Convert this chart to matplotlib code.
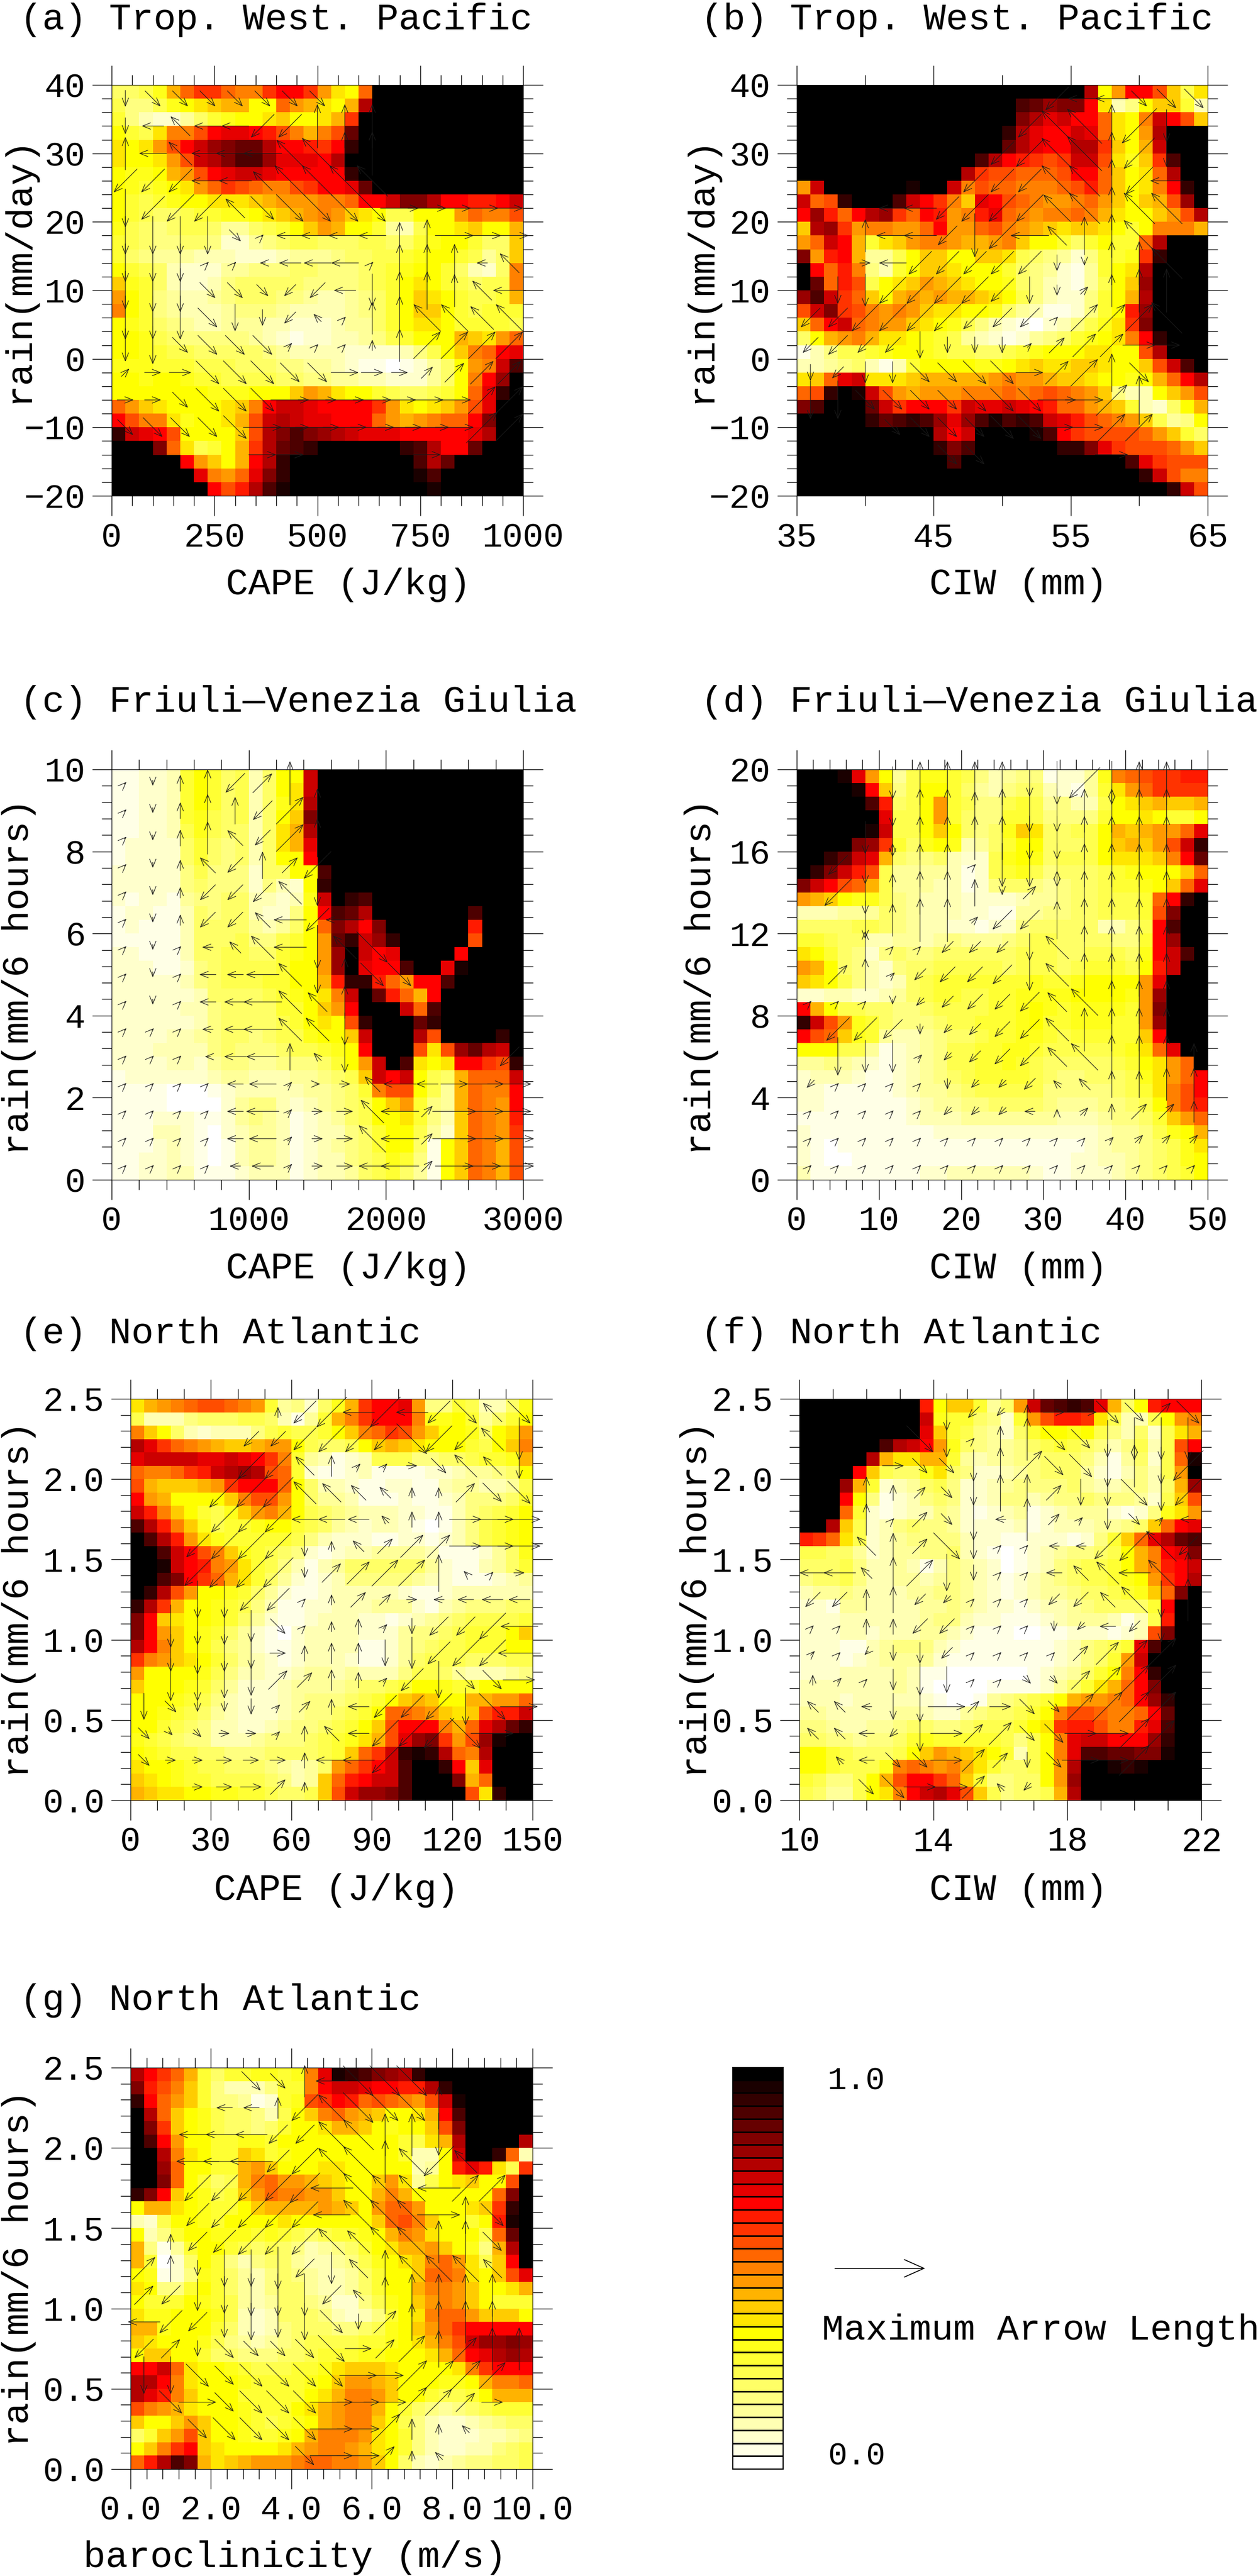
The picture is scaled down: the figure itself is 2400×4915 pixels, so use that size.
import numpy as np
import matplotlib
matplotlib.use('Agg')
import matplotlib.pyplot as plt
from matplotlib.colors import ListedColormap
from matplotlib.patches import FancyArrowPatch
from matplotlib.ticker import MultipleLocator

# colour levels of the shared bar, white to black
LEVELS = '0123456789abcdefghijklmnopqrstu'
bar_colors = ['#ffffff', '#ffffe6', '#ffffcc', '#ffffb3', '#ffff99', '#ffff80', '#ffff66', '#ffff4d',
              '#ffff33', '#ffff1a', '#ffff00', '#ffe600', '#ffcc00', '#ffb300', '#ff9900', '#ff8000',
              '#ff6600', '#ff4d00', '#ff3300', '#ff1a00', '#ff0000', '#e60000', '#cc0000', '#b30000',
              '#990000', '#800000', '#660000', '#4d0000', '#330000', '#1a0000', '#000000']

# heat cells, top row first, one level character per cell
heat_a = ['6679dgiigffikkiebaguuuuuuuuuuu', '75579abcddaagedbadnuuuuuuuuuuu', '853224689aabcaabdiuuuuuuuuuuuu',
          'a87bffhkllkjhfdfhquuuuuuuuuuuu', 'babehkmopqqnkkjiksuuuuuuuuuuuu', 'baabehmnprrolllknuuuuuuuuuuuuu',
          'a99adehklmmlkkkkksuuuuuuuuuuuu', 'a989abegihgffhikklquuuuuuuuuuu', 'a8789aabbbcdeeeffgkkmppnkkjjkm',
          'a876678899abcdefecba77aaaegffh', '9765677644678acedaa8437aabcaad', '876556652245677666776689aa866c',
          '86544433322234445667789aa8746c', 'a876322244555665556789aa86326f', 'c986322356666655556 78aba87677f'.replace(' ', ''),
          'ea854334566655433456' + '8acba8778d', 'fa854333455543333456' + '8acca87888', 'a9865433444332223446' + '8abba88887',
          'aa976555554321223345' + '78aaadcbeg', 'aa987766666543333222' + '2357acfgkl', '99988877766655443211' + '01246aefmr',
          'aa9aa988777766554433' + '22246afkou', 'aaaaaaa999aaacedbaa8' + '76678aglsu', 'gecbaaaabcfkmmlkkkki' + 'ebabcehluu',
          'khffb9aabdhmnmllkkkg' + 'edefggkpuu', 'smlkhaaaachnprponmll' + 'lkkkkklnuu', 'uuupgb78adinqrsuuuuu' + 'usrnkkquuu',
          'uuuuukecadknsuuuuuuu' + 'uurnquuuuu', 'uuuuuulfeglpsuuuuuuu' + 'uutruuuuuu', 'uuuuuuukhjnrtuuuuuuu' + 'uuutuuuuuu']

heat_b = ['uuuuuuuuuuuuuuuuuuuuunaekkhc7b', 'uuuuuuuuuuuuuuuurqoppkb35acc83', 'uuuuuuuuuuuuuuuupnlmkkgbafmkhc',
          'uuuuuuuuuuuuuuusnlkkmlgbaenuuu', 'uuuuuuuuuuuuuuuqnlkknnicadmuuu', 'uuuuuuuuuuuuurnkjihimmhb9ciruu',
          'uuuuuuuuuuuunihhggghkkgcabgnuu', 'emuuuuuutuumfhggfffghjgcabfksu', 'mghsuuurmkifclkhgfeefgecacdhou',
          'kojgknoigkjefjlgfeffgfdbaacehn', 'cnoieffeegkeeghfedcbccba8afffd', 'egmkd8bceffeddefcaa868a88gnuuu',
          'pejkd447accaaccb765425889isuuu', 'ukgjf538accbaaa86542148abnuuuu', 'uqgjh7abcedcbaa96532147acouuuu',
          'ormigcadededdcba7532258adnuuuu'[:10] + 'eddcba7532258adnuuuu', 'hmpihfefecbbaa964311258ajouuuu', 'cgkmgfeecba975321023579bipuuuu',
          '6adefdbba9874321245689abfksuuu', '1357789aa987766789aaabbaahnuuu', '334563138aaaa99abcbbccbaachmru',
          'bcglmbbbcdddddefeedccbaa9adgkn', 'ghsutmhedeeefffgfghgfec533aceh', 'pruuuqmikkkimllmlkjggedc8326ad',
          'uuuuusqrsrolortrsrmljhgfec745a', 'uuuuuuuuuunkmuuuutrkihhhhgec86', 'uuuuuuuuuuspruuuuuussplihhhgec',
          'uuuuuuuuuuuruuuuuuuuuuuurlihhhg'[:30], 'uuuuuuuuuuuuuuuuuuuuuuuuusmhff', 'uuuuuuuuuuuuuuuuuuuuuuuuuuusmh']

heat_c = ['112238a86736aamuuuuuuuuuuuuuuu', '112238a86736abmuuuuuuuuuuuuuuu', '112238a867369bnuuuuuuuuuuuuuuu',
          '112238976736acpuuuuuuuuuuuuuuu', '112237976636bdnuuuuuuuuuuuuuuu', '122226865636bdluuuuuuuuuuuuuuu',
          '122226865636aakuuuuuuuuuuuuuuu', '2222257555266aaruuuuuuuuuuuuuu', '22222565552532asuuuuuuuuuuuuuu',
          '212214556633239musruuuuuuuuuuu', '12211365663225akrqnuuuuuuuruuu', '12111366664346agpnkpuuuuuujuuu',
          '11111366675578aeqsmosuuuuuhuuu', '22111366776689aeoumkluuuukuuuu', '2221125677778aaeoulkkruultuuuu',
          '2222235677788aadjssjgekkruuuuu', '22222236666789abfmuqjgdkuuuuuu', '22222335666688acekuuumgruuuuuu',
          '22222235666678abahsuuuqsuuuuuu', '222233456656779aacmuuunhuuuusu', '2223333565' + '5567789aku' + 'uuhbhoqnmu',
          '2222332455' + '4455568aem' + 'urbabkkihs', '1222222344' + '33344567cm' + 'kma76dgggm', '1111000123' + '333344568f' + 'hha74dgffk',
          '1111000024' + '553234567a' + 'ce854dgfek', '1112221124' + '543123467a' + 'ab853cgfej', '1113321023' + '4431233568' + 'aa742cgfei',
          '1112321013' + '4431234568' + 'aa61acgfdh', '1122321013' + '4431233567' + '9851acgfdh', '1122331112' + '3331233467' + '8641acgfdh']

heat_d = ['uuutlea479' + '9875345512' + '249fghiijj', 'uuuutkc57a' + 'a864356632' + '148begiiii', 'uuuuurj67a' + 'e875578745' + '337abcdccd',
          'uuuuuul77a' + 'e865588755' + '558aaba88a', 'uuuuutm77a' + 'ca6569cb66' + '77adcdeegl', 'uuuupoi869' + 'a93468aa66' + '67acdcehms',
          'uusqmld655' + '632279a967' + '77abbbcfkq', 'uspmjh7444' + '4312789756' + '66789aaacg', 'pmkhgd7444' + '3312566545' + '667889acgl',
          'edca997543' + '3322223445' + '667778gksu', '3334446543' + '3322114455' + '667778hpuu', '6666776543' + '3221225666' + '663357kruu',
          '8876633443' + '4544456776' + '666558kouu', 'ba86525655' + '6666667776' + '677769kmru', 'eda6532566' + '7777767776' + '78887ajmuu',
          'cba7532367' + '8888888988' + '9aaaaeluuu', '2233223467' + '8877889999' + 'aaaa9eouuu', 'kda7766556' + '7777889a98' + '99998epuuu',
          'smhe986555' + '6778889a88' + '99988eouuu', 'khgc984334' + '5667889987' + '88888ckuuu', 'aaa7741234' + '5778899877' + '77789bgluu',
          '4454321234' + '5778898766' + '66678abegu', '2333211234' + '5678888765' + '566679begk', '2211111234' + '4567777755' + '555678bfhk',
          '2211111123' + '4455666654' + '445567afhj', '1111111123' + '3344444443' + '3345568ceg', '2111111111' + '2222222222' + '22344579ad',
          '2101111111' + '1111111111' + '123445679b', '2100111111' + '1111111111' + '223345679a', '3111111112' + '2333333211' + '222345678a']

heat_e = ['bdefghhgfe' + '845269dikk' + 'le55873369', '7333566677' + '63148dfikk' + 'kf99a8468a', 'fca6323335' + '78778acfgi' + 'hecaa96abe',
          'nligfedccd' + 'eea7667acd' + 'cbaaa87acf', 'lmmmmllmlk' + 'if84312377' + '755667889d', 'gffgijmnon' + 'hg82112311' + '112234456a',
          'hdcccdeikk' + 'kga6332112' + '2113443347', 'kedaaaacfh' + 'hea6443111' + '2112355568', 'mjfca879ce' + 'fda7654333' + '221135678a',
          'rnjfc97889' + 'aa87643233' + '210135789a', 'urnjeb9888' + '8875322211' + '221235789a', 'uurmkhfc98' + '7652123344' + '4431112469',
          'uutmkjfeb8' + '7531346666' + '6642113468', 'uurpkigdb8' + '6421235555' + '5432111234', 'usnheaa986' + '4211233333' + '2112333333',
          'snidaa9875' + '3112233344' + '4213455566', 'pkcbaa9864' + '2112333221' + '2345677778', 'pkeca98642' + '1023333222' + '45567888ac',
          'nkfca97542' + '1123333112' + '45677888aa', 'ifecba8643' + '2123332112' + '4677766677', 'eaaaa97533' + '2234434333' + '5776433345',
          'caaa986422' + '2344445667' + '8aa988aaaa', 'aaa9875322' + '234555678a' + 'cdcaaddeeg', 'aa98764322' + '23455678ag' + 'gfecbchjjm',
          'aa87653322' + '3455678ach' + 'kkkfdglnqs', '9876553334' + '5556789bdh' + 'lopiehotuu', 'a987766555' + '666678cgim' + 'stsngfnuuu',
          'baa9877666' + '54346egikm' + 'ruuskcluuu', 'cba9887777' + '6534cgjkmm' + 'ruuupdguuu', 'dcbbaa9988' + '7667chmoop' + 'ruuuuhbsuu']

heat_f = ['uuuuuuuuuj' + 'acc846emqr' + 'srld6ajkkk', 'uuuuuuuuum' + '9886528ehj' + 'jib7337aef', 'uuuuuuuuul' + 'c8754268aa' + '9a753627bd',
          'uuuuuurnmk' + 'e965445678' + '76535737hk', 'uuuuundbbd' + 'd843445566' + '65314627gt', 'uuuukc7669' + 'b652234566' + '64213537eu',
          'uuuod82346' + '7522345555' + '64334536do', 'uuuka51235' + '6522355345' + '56555427ch', 'uuug821233' + '5421234123' + '44421259be',
          'uunc723565' + '5422223123' + '334456cgkl', 'jigb723455' + '5532211222' + '1258cglnqr', '7766423445' + '5632101234' + '5567adfklp',
          '6667533431' + '3543201235' + '6778adfjkm', '5667533443' + '4543212345' + '67789aeikn', '3445433344' + '5543212344' + '566789cgpu',
          '2214433334' + '4543221233' + '4566668kuu', '2223333334' + '5532211123' + '4443137juu', '2223323334' + '4321110011' + '222123hpuu',
          '2221134555' + '3211111112' + '35678lruuu', '2221234444' + '2111111112' + '3568emuuuu', '2223333431' + '1000000123' + '468afksuuu',
          '3333333431' + '0000111124' + '68bdgkpuuu', '3332333332' + '100145678a' + 'deefgkosuu', '4433333443' + '22456678af' + 'hhgffgkquu',
          '5543344566' + '5567778abi' + 'jjhffjlruu', '6655455689' + '88888757af' + 'lmmkkkosuu', 'aa876667ac' + 'edcba837af' + 'lrrqqpptuu',
          'aa87779fgf' + 'efdb8667ae' + 'nuutstuuuu', '87557adhkk' + 'igc85566ae' + 'ouuuuuuuuu', '76447abfkm' + 'nlhc75667d' + 'nuuuuuuuuu']

heat_g = ['nkigd86889' + '989fltsrpo' + 'nsuuuuuuuu', 'pjhfc85333' + '588fkmmlkk' + 'jjnsuuuuuu', 'skgec85541' + '289hikjghg' + 'fehmtuuuuu',
          'ungca97665' + '37acfgedca' + 'abdkruuuuu', 'upica97665' + '68aabddca9' + 'aachpuuuuu', 'urkeaa8899' + '8aaaaaaaaa' + '87bdnuuuun',
          'uunfba88cb' + '89aaaaaaaa' + '833amuusg3', 'uuogaa88de' + 'caaabbaaaa' + 'a34ajljb7i', 'uupga867df' + 'geedcbaace' + 'b47abcaahu',
          'spkca978ce' + 'gffeecaadf' + 'daaaaaagpu', 'addba988ac' + 'ddddedcaeg' + 'geaaabcisu', '327aa98aaa' + 'abaaaaaacg' + 'hfcaa8ajtu',
          'a358aa9998' + '98767889ad' + 'febaaa7gqu', 'd5148aa876' + '76534568ab' + 'ddeca95dnu', 'd8026a8535' + '664334579a' + 'bcfgeb7cku',
          'a912598643' + '565433468a' + 'acggfbachl', 'ba558a8643' + '566433468a' + 'adffecaabd', 'a888a98743' + '4665422579' + 'acefeca888',
          'b99aaa9732' + '3666532358' + 'abfggeccca', 'dd9aaa8632' + '3566655679' + 'acegikkkkk', 'cbaaa97543' + '4567777889' + 'abdfhmoopo',
          'accaa86655' + '566788899a' + 'aabdgklnon', 'kkmgbaa987' + '77889bcccb' + 'aaaabfikkk', 'nnkfbaaa98' + '8889aceedc' + 'aaa99adffg',
          'nljfcaaa88' + '888abdffec' + 'aa8778addd', 'hfedbaaa98' + '88abdeffda' + '8654567888', 'caacecaa98' + '789adeffca' + '7532234566',
          '68cehcaa98' + '89adfffeba' + '8532223345', 'acfikcbaaa' + 'abdeffedba' + '8532233567', 'gjnrpdbcde' + 'eefggffeca' + '6323455667']

# arrows on a coarse 15x15 grid, top row first: numpad direction (8 up, 6 right, 5 dot, 0 none)
# and length digit
dir_a = ['233333330000000', '247441188800000', '847444778800000', '111447777700000', '211173333366666',
         '222235444488666', '222554444588847', '222333114288874', '222322175887777', '223333555889999',
         '966333336669999', '663333666666699', '333336666666699', '000006600006000', '000000000000000']
len_a = ['344444440000000', '345556688800000', '656677788800000', '666665888800000', '767756777777665',
         '777731566556777', '777111455177725', '788443344677656', '888553321687767', '674555211267777',
         '234666555433566', '334666777766677', '455567788888787', '000005500005000', '000000000000000']
dir_b = ['000000000144333', '000000001778120', '000000011778120', '000000111778140', '000441111778770',
         '008441214788700', '006411111228870', '022111112298880', '111111111599970', '111122225999660',
         '212233336998300', '223333333669800', '000333333669900', '000003300006000', '000000000000000']
len_b = ['000000000666455', '000000006898960', '000000067898850', '000000666888760', '000566777788880',
         '006665877578800', '002566666318880', '056777765226880', '557777655177780', '454453332466650',
         '334455665677500', '775555666778900', '000455566677700', '000005500006000', '000000000000000']
dir_c = ['528819800000000', '528881980000000', '528871980000000', '528718910000000', '528111720000000',
         '528117414000000', '525477427300000', '525444728330000', '525444778000000', '555444772000000',
         '555444872000001', '555544566744666', '555544566745666', '555544566745666', '555544566445666']
len_c = ['113555800000000', '113655780000000', '113644770000000', '112445470000000', '112445650000000',
         '112444667000000', '111236686800000', '111336676660000', '111347656000000', '111247666000000',
         '111146526000005', '111135212464588', '111136223675888', '111135223775889', '111124223575779']
dir_d = ['000288882212880', '000288882288880', '002288882288880', '012888522288880', '012888825888880',
         '002888511888880', '008551112788880', '098511112788880', '555211111778880', '011121111788880',
         '022251111778888', '155552111778888', '555551114898998', '555555555559999', '555555555555555']
len_d = ['000688885888880', '000688788888880', '006788888888880', '057888188888880', '078788516888880',
         '007688355788880', '006113335688880', '056234456688880', '111123445578880', '066522345688880',
         '076622345578885', '211112223235566', '111112222123444', '111111111111222', '111111111111111']
dir_e = ['000008114141373', '000011111131172', '000011785563772', '000111777788933', '000111444788666',
         '001111287999666', '001111299998756', '002211589964444', '022223588521114', '022226888221114',
         '022229988512336', '232225984111236', '333665874111360', '366666844110000', '006669800000000']
len_e = ['000002686866656', '000044677687668', '000077542224655', '000888654322556', '000777554233688',
         '006777423466688', '007888256777112', '007766124322344', '087764123235577', '078763344566778',
         '088765443267556', '532232334667777', '312222344778880', '322333366700000', '002344200000000']
dir_f = ['000002118663393', '000032588332222', '000633289332821', '008893288922321', '008593248952354',
         '007893255441171', '447892255477478', '118811555117728', '558811555214120', '551221555599990',
         '855222553399990', '774226963399990', '774126993366990', '074336992366900', '003366971000000']
len_f = ['000007323466556', '000077158657888', '000444678568878', '006333577455777', '006143828324323',
         '005547511227885', '563677311346678', '444532111344778', '113344111223360', '211343111146780',
         '221465112257880', '332567344378880', '333276564568870', '023446643478800', '004668622000000']
dir_g = ['000033843330000', '000448173338000', '004441177882000', '014441177871700', '011111147774990',
         '011111147776830', '081111177778830', '982222127877770', '912222217888880', '411222232988880',
         '192333336998988', '223333336699990', '036333366699960', '003333366988700', '000000366987000']
len_g = ['000054668880000', '000334778778000', '007765578888500', '008886778878600', '007777888778770',
         '006777778888760', '035677776888850', '653778565777750', '556788853788880', '665676763678880',
         '553544575577688', '776566667788870', '067566688887540', '005666688842200', '000000588522000']

# x tick labels / y tick labels
xt_a = ['0', '250', '500', '750', '1000']
xt_b = ['35', '45', '55', '65']
xt_c = ['0', '1000', '2000', '3000']
xt_d = ['0', '10', '20', '30', '40', '50']
xt_e = ['0', '30', '60', '90', '120', '150']
xt_f = ['10', '14', '18', '22']
xt_g = ['0.0', '2.0', '4.0', '6.0', '8.0', '10.0']
yt_ab = ['\u221220', '\u221210', '0', '10', '20', '30', '40']
yt_c = ['0', '2', '4', '6', '8', '10']
yt_d = ['0', '4', '8', '12', '16', '20']
yt_efg = ['0.0', '0.5', '1.0', '1.5', '2.0', '2.5']

W, H = 2400, 4915
FONT = 'Liberation Mono'
VEC = {'8': (0, 1), '2': (0, -1), '4': (-1, 0), '6': (1, 0), '7': (-.707, .707), '9': (.707, .707),
       '1': (-.707, -.707), '3': (.707, -.707), '5': (.4, .4)}

fig = plt.figure(figsize=(W / 100, H / 100), dpi=100)
cmap = ListedColormap(bar_colors)


def rect(x0, x1, y0, y1):
    return [x0 / W, 1 - y1 / H, (x1 - x0) / W, (y1 - y0) / H]


def put(x, y, s, size=51, **kw):
    fig.text(x / W, 1 - y / H, s, fontsize=size, family=FONT, **kw)


def panel(box, rows, adir, alen, xlim, ylim, xticks, yticks, xmajor, xminor, ymajor, yminor):
    ax = fig.add_axes(rect(*box))
    # short or long rows get cut to the grid, a missing cell repeats the last one
    grid = np.array([[LEVELS.index(c) for c in r.ljust(30, r[-1])[:30]] for r in rows])[::-1]
    xe = np.linspace(xlim[0], xlim[1], 31)
    ye = np.linspace(ylim[0], ylim[1], 31)
    ax.pcolormesh(xe, ye, grid, cmap=cmap, vmin=-0.5, vmax=30.5)
    ax.set_xlim(xlim)
    ax.set_ylim(ylim)
    ax.set_xticks(np.arange(len(xticks)) * xmajor + xlim[0], xticks, family=FONT, fontsize=47)
    ax.set_yticks(np.arange(len(yticks)) * ymajor + ylim[0], yticks, family=FONT, fontsize=47)
    ax.xaxis.set_minor_locator(MultipleLocator(xminor))
    ax.yaxis.set_minor_locator(MultipleLocator(yminor))
    ax.tick_params(which='major', direction='out', length=27, width=1, top=True, right=True, pad=9)
    ax.tick_params(which='minor', direction='out', length=14, width=1, top=True, right=True)
    for s in ax.spines.values():
        s.set_linewidth(0.8)

    # quiver-like field, open heads like the original
    dx = (xlim[1] - xlim[0]) / 30
    dy = (ylim[1] - ylim[0]) / 30
    for i in range(15):
        for j in range(15):
            d, n = adir[i][j], int(alen[i][j])
            if d == '0' or n == 0:
                continue
            cx = xlim[0] + (2 * j + 1) * dx
            cy = ylim[1] - (2 * i + 1) * dy
            ux, uy = VEC[d]
            hx, hy = ux * n * 0.2 * dx, uy * n * 0.2 * dy
            ax.annotate('', xy=(cx + hx, cy + hy), xytext=(cx - hx, cy - hy), annotation_clip=False,
                        arrowprops=dict(arrowstyle='->,head_length=0.55,head_width=0.22', color='#1a1a1a',
                                        lw=0.8, shrinkA=0, shrinkB=0, mutation_scale=20))
    return ax


panel((213, 998, 162, 946), heat_a, dir_a, len_a, (0, 1000), (-20, 40), xt_a, yt_ab, 250, 50, 10, 2)
panel((1520, 2304, 162, 946), heat_b, dir_b, len_b, (35, 65), (-20, 40), xt_b, yt_ab, 10, 5, 10, 2)
panel((213, 998, 1468, 2251), heat_c, dir_c, len_c, (0, 3000), (0, 10), xt_c, yt_c, 1000, 200, 2, 0.4)
panel((1520, 2304, 1468, 2251), heat_d, dir_d, len_d, (0, 50), (0, 20), xt_d, yt_d, 10, 2, 4, 0.8)
panel((249, 1016, 2669, 3435), heat_e, dir_e, len_e, (0, 150), (0, 2.5), xt_e, yt_efg, 30, 10, 0.5, 0.1)
panel((1525, 2292, 2669, 3435), heat_f, dir_f, len_f, (10, 22), (0, 2.5), xt_f, yt_efg, 4, 1, 0.5, 0.1)
panel((249, 1016, 3945, 4711), heat_g, dir_g, len_g, (0, 10), (0, 2.5), xt_g, yt_efg, 2, 0.4, 0.5, 0.1)

# panel titles
for x, y, t in [(38, 38, '(a) Trop. West. Pacific'), (1337, 38, '(b) Trop. West. Pacific'),
                (38, 1340, '(c) Friuli\u2014Venezia Giulia'), (1337, 1340, '(d) Friuli\u2014Venezia Giulia'),
                (38, 2545, '(e) North Atlantic'), (1337, 2545, '(f) North Atlantic'),
                (38, 3817, '(g) North Atlantic')]:
    put(x, y, t, ha='left', va='center')

# axis labels
for x, y, t in [(665, 1116, 'CAPE (J/kg)'), (1943, 1116, 'CIW (mm)'), (665, 2421, 'CAPE (J/kg)'),
                (1943, 2421, 'CIW (mm)'), (642, 3607, 'CAPE (J/kg)'), (1943, 3607, 'CIW (mm)'),
                (563, 4880, 'baroclinicity (m/s)')]:
    put(x, y, t, ha='center', va='center')
for x, y, t in [(36, 514, 'rain(mm/day)'), (1338, 514, 'rain(mm/day)'), (36, 1864, 'rain(mm/6 hours)'),
                (1338, 1864, 'rain(mm/6 hours)'), (36, 3052, 'rain(mm/6 hours)'), (1330, 3052, 'rain(mm/6 hours)'),
                (36, 4328, 'rain(mm/6 hours)')]:
    put(x, y, t, ha='center', va='center', rotation=90)

# colour bar
cax = fig.add_axes(rect(1397, 1494, 3944, 4711))
levels = np.arange(len(bar_colors))
cax.pcolormesh([0, 1], np.arange(len(bar_colors) + 1), levels[:, None], cmap=cmap, vmin=-0.5, vmax=30.5,
               edgecolors='black', linewidth=1.0)
cax.set_xticks([])
cax.set_yticks([])
put(1634, 3971, '1.0', size=44, ha='center', va='center')
put(1634, 4687, '0.0', size=44, ha='center', va='center')
put(1568, 4446, 'Maximum Arrow Length', size=50, ha='left', va='center')

# reference arrow
fig.add_artist(FancyArrowPatch((1593 / W, 1 - 4328 / H), (1765 / W, 1 - 4328 / H),
                               transform=fig.transFigure, arrowstyle='->,head_length=0.9,head_width=0.4',
                               mutation_scale=30, lw=1.3, color='black', shrinkA=0, shrinkB=0))

fig.savefig('out.png', dpi=100, facecolor='white')
